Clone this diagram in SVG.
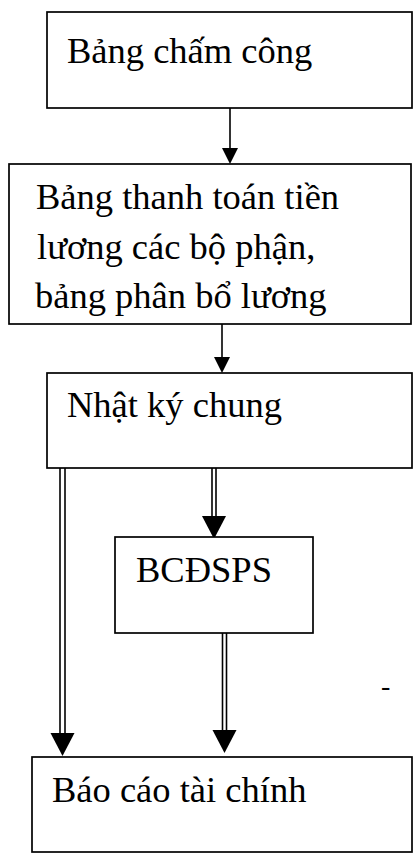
<svg xmlns="http://www.w3.org/2000/svg" xmlns:xlink="http://www.w3.org/1999/xlink" width="414" height="854" viewBox="0 0 414 854">
  <style>
    .box { fill: #ffffff; stroke: #000000; stroke-width: 1.7; }
    .lbl { font-family: "Liberation Serif", "Times New Roman", serif; font-size: 36.5px; fill: #000000; }
    .wire { stroke: #000000; stroke-width: 1.6; fill: none; }
    .head { fill: #000000; stroke: none; }
  </style>
  <defs>
    <!-- arrowheads: tip at the origin, pointing down -->
    <path id="headS" class="head" d="M-8,-16 L8,-16 L0,0 Z"/>
    <path id="headD" class="head" d="M-12,-23 L12,-23 L0,0 Z"/>
  </defs>
  <rect width="414" height="854" fill="#ffffff"/>

  <g id="connectors">
    <!-- Bảng chấm công -> Bảng thanh toán -->
    <line class="wire" x1="230" y1="108" x2="230" y2="152"/>
    <use xlink:href="#headS" x="230" y="164"/>
    <!-- Bảng thanh toán -> Nhật ký chung -->
    <line class="wire" x1="222" y1="324" x2="222" y2="361"/>
    <use xlink:href="#headS" x="222" y="373"/>
    <!-- Nhật ký chung => Báo cáo tài chính -->
    <line class="wire" x1="60" y1="468" x2="60" y2="736"/>
    <line class="wire" x1="65" y1="468" x2="65" y2="736"/>
    <use xlink:href="#headD" x="62.5" y="756"/>
    <!-- Nhật ký chung => BCĐSPS -->
    <line class="wire" x1="212" y1="468" x2="212" y2="520"/>
    <line class="wire" x1="216" y1="468" x2="216" y2="520"/>
    <use xlink:href="#headD" x="214" y="539"/>
    <!-- BCĐSPS => Báo cáo tài chính -->
    <line class="wire" x1="222.5" y1="633" x2="222.5" y2="732"/>
    <line class="wire" x1="226.5" y1="633" x2="226.5" y2="732"/>
    <use xlink:href="#headD" x="224.5" y="753"/>
  </g>

  <g id="bang-cham-cong">
    <rect class="box" x="47" y="12" width="365" height="96"/>
    <text class="lbl" x="67" y="63">Bảng chấm công</text>
  </g>

  <g id="bang-thanh-toan">
    <rect class="box" x="9" y="164" width="402" height="160"/>
    <text class="lbl" x="36" y="209">Bảng thanh toán tiền</text>
    <text class="lbl" x="37" y="259">lương các bộ phận,</text>
    <text class="lbl" x="35" y="308">bảng phân bổ lương</text>
  </g>

  <g id="nhat-ky-chung">
    <rect class="box" x="47" y="373" width="365" height="95"/>
    <text class="lbl" x="67" y="417">Nhật ký chung</text>
  </g>

  <g id="bcdsps">
    <rect class="box" x="115" y="537" width="198" height="96"/>
    <text class="lbl" x="136" y="582">BCĐSPS</text>
  </g>

  <g id="bao-cao-tai-chinh">
    <rect class="box" x="32" y="757" width="380" height="95"/>
    <text class="lbl" x="52" y="802">Báo cáo tài chính</text>
  </g>

  <text class="lbl" x="381" y="695" style="font-size:28px">-</text>
</svg>
